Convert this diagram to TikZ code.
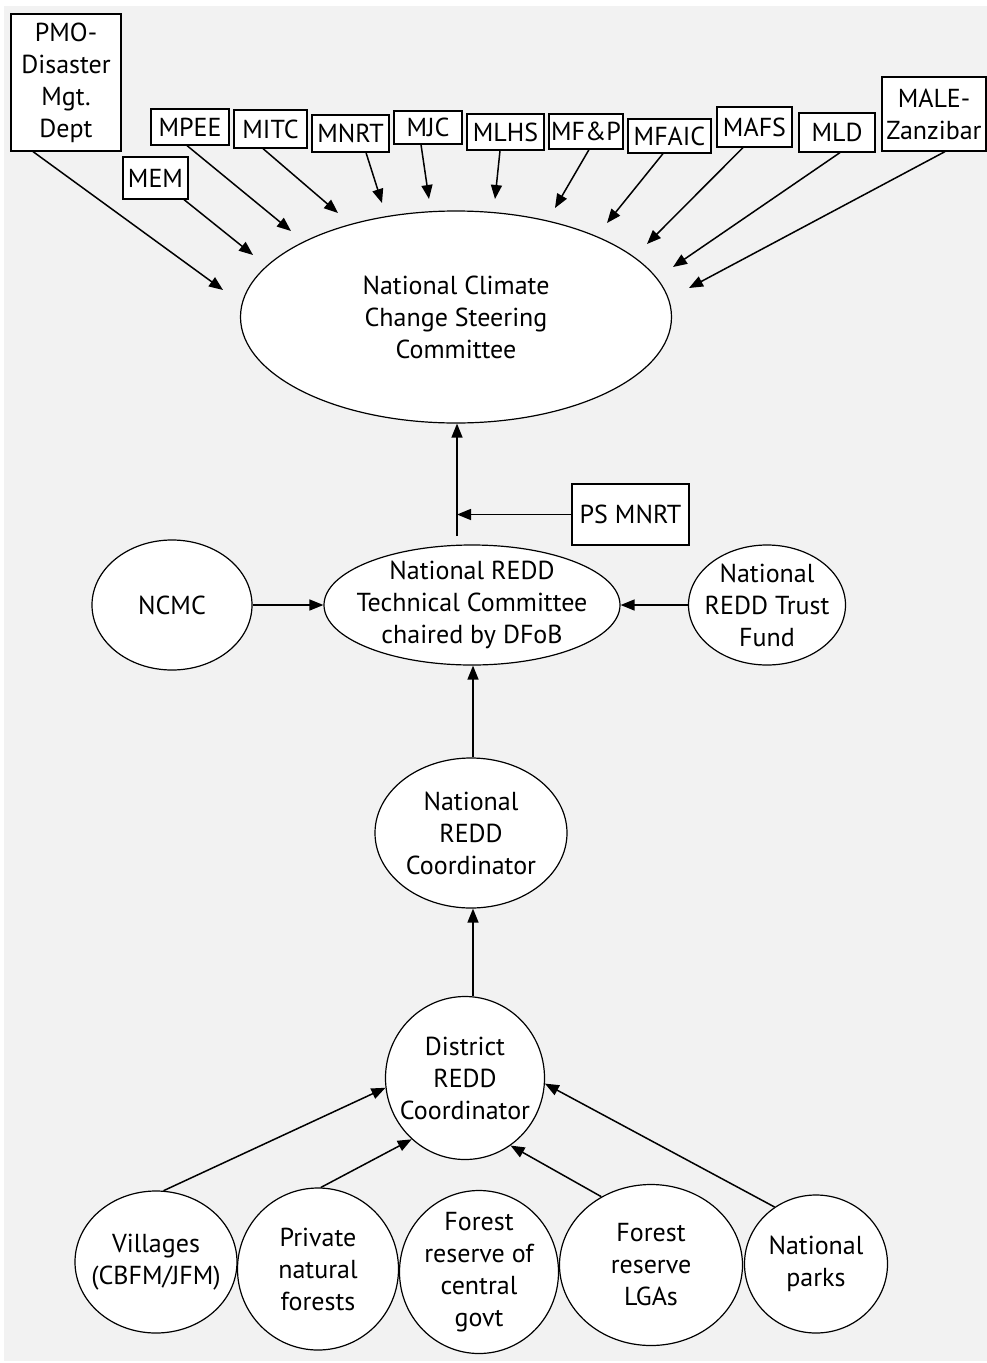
\documentclass[tikz,border=0pt]{standalone}
\usepackage{fontspec}
\setmainfont{PT Sans}
\usetikzlibrary{arrows.meta,shapes.geometric}
\definecolor{bgray}{HTML}{F2F2F2}
\tikzset{
  box/.style={draw=black, fill=white, line width=1.2pt, inner sep=0pt, align=center, font=\fontsize{26}{32}\selectfont},
  oval/.style={draw=black, fill=white, ellipse, line width=1.2pt, inner sep=-60pt, align=center, font=\fontsize{26}{32}\selectfont},
  arr/.style={line width=1.5pt, -{Triangle[length=14pt,width=11pt]}},
  plain/.style={line width=1.5pt}
}
\begin{document}
\begin{tikzpicture}[x=1pt,y=-1pt]
\useasboundingbox (0,0) rectangle (987,1363);
\fill[bgray] (4,6) rectangle (987,1361);
% top boxes
\node[box, minimum width=110pt, minimum height=137pt] (pmo) at (66,82.5) {PMO-\\Disaster\\Mgt.\\Dept};
\node[box, minimum width=65pt, minimum height=42pt] (mem) at (155.5,178) {MEM};
\node[box, minimum width=78pt, minimum height=36pt] (mpee) at (190,127) {MPEE};
\node[box, minimum width=73pt, minimum height=38pt] (mitc) at (270.5,129) {MITC};
\node[box, minimum width=77pt, minimum height=37pt] (mnrt) at (350.5,133.5) {MNRT};
\node[box, minimum width=68pt, minimum height=33pt] (mjc) at (428,127.5) {MJC};
\node[box, minimum width=77pt, minimum height=36pt] (mlhs) at (505.5,132) {MLHS};
\node[box, minimum width=74pt, minimum height=35pt] (mfp) at (586,131.5) {MF\&P};
\node[box, minimum width=83pt, minimum height=34pt] (mfaic) at (669.5,136) {MFAIC};
\node[box, minimum width=75pt, minimum height=40pt] (mafs) at (754.5,127) {MAFS};
\node[box, minimum width=76pt, minimum height=39pt] (mld) at (837,132.5) {MLD};
\node[box, minimum width=104pt, minimum height=74pt] (male) at (934,114) {MALE-\\Zanzibar};
% steering committee
\node[oval, minimum width=431pt, minimum height=212pt] (nccsc) at (456,317) {National Climate\\Change Steering\\Committee};
% tips
\coordinate (t1) at (223,290);
\coordinate (t2) at (253,255);
\coordinate (t3) at (291,231);
\coordinate (t4) at (338,213);
\coordinate (t5) at (382,203);
\coordinate (t6) at (429,199);
\coordinate (t7) at (495,199);
\coordinate (t8) at (555,208);
\coordinate (t9) at (607,223);
\coordinate (t10) at (647,244);
\coordinate (t11) at (673,267);
\coordinate (t12) at (689,288);
\draw[arr] ([xshift=-33pt]pmo.south) -- (t1);
\draw[arr] ([xshift=28.5pt]mem.south) -- (t2);
\draw[arr] ([xshift=-3pt]mpee.south) -- (t3);
\draw[arr] ([xshift=-7.5pt]mitc.south) -- (t4);
\draw[arr] ([xshift=15.5pt]mnrt.south) -- (t5);
\draw[arr] ([xshift=-7pt]mjc.south) -- (t6);
\draw[arr] ([xshift=-5.5pt]mlhs.south) -- (t7);
\draw[arr] ([xshift=3pt]mfp.south) -- (t8);
\draw[arr] ([xshift=-6.5pt]mfaic.south) -- (t9);
\draw[arr] ([xshift=-11.5pt]mafs.south) -- (t10);
\draw[arr] ([xshift=3pt]mld.south) -- (t11);
\draw[arr] ([xshift=11pt]male.south) -- (t12);
% middle
\node[box, minimum width=117pt, minimum height=61pt] (psmnrt) at (630.5,514.5) {PS MNRT};
\coordinate (v) at (457,536);
\draw[arr] (v) -- (v |- nccsc.south);
\draw[arr] (psmnrt.west) -- (v |- psmnrt.west);
\node[oval, minimum width=160pt, minimum height=130pt] (ncmc) at (172,605) {NCMC};
\node[oval, minimum width=296pt, minimum height=120pt] (tech) at (472,605) {National REDD\\Technical Committee\\chaired by DFoB};
\node[oval, minimum width=157pt, minimum height=120pt] (trust) at (767,605) {National\\REDD Trust\\Fund};
\draw[arr] (ncmc.east) -- (tech.west);
\draw[arr] (trust.west) -- (tech.east);
\node[oval, minimum width=192pt, minimum height=150pt] (natc) at (471,833) {National\\REDD\\Coordinator};
\node[oval, minimum width=159pt, minimum height=163pt] (dist) at (465,1078) {District\\REDD\\Coordinator};
\draw[arr] ([xshift=2pt]natc.north) -- ([xshift=2pt]natc.north |- tech.south);
\draw[arr] ([xshift=2pt]natc.south |- dist.north) -- ([xshift=2pt]natc.south);
% bottom
\node[oval, minimum width=162pt, minimum height=142pt] (vill) at (156,1262) {Villages\\(CBFM/JFM)};
\node[oval, minimum width=161pt, minimum height=162pt] (priv) at (318,1269) {Private\\natural\\forests};
\node[oval, minimum width=159pt, minimum height=163pt] (cent) at (479,1272) {Forest\\reserve of\\central\\govt};
\node[oval, minimum width=183pt, minimum height=161pt] (lga) at (651,1265) {Forest\\reserve\\LGAs};
\node[oval, minimum width=143pt, minimum height=138pt] (park) at (816,1264) {National\\parks};
\draw[arr] (vill.84) -- (dist.187);
\draw[arr] (priv.88) -- (dist.229);
\draw[arr] (lga.126) -- (dist.-56);
\draw[arr] (park.126) -- (dist.-4);
\end{tikzpicture}
\end{document}
